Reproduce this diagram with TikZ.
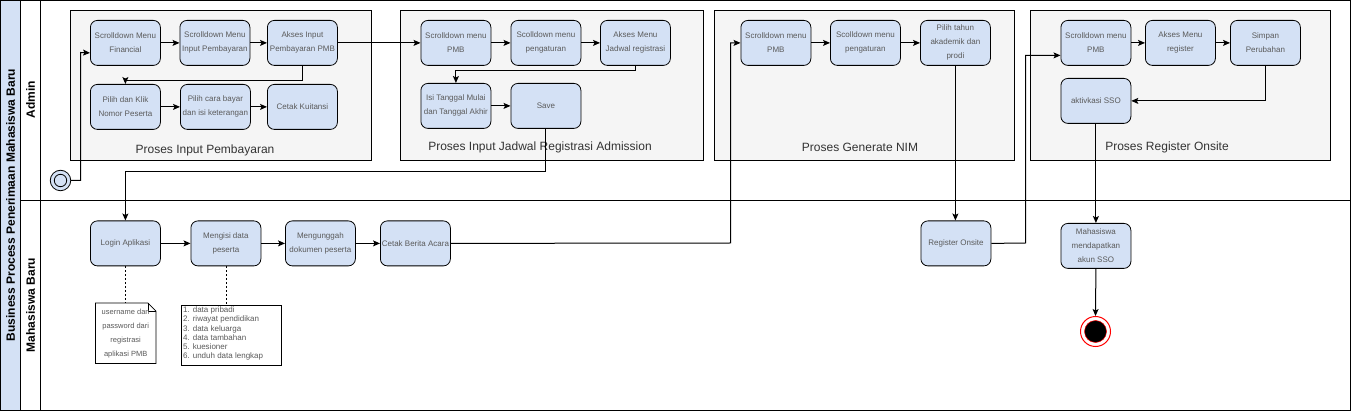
\documentclass[tikz,border=0pt]{standalone}
\usepackage{fontspec}
\setmainfont{Liberation Sans}
\usetikzlibrary{arrows.meta,calc}
\definecolor{boxblue}{HTML}{D4E1F5}
\definecolor{grpfill}{HTML}{F5F5F5}
\definecolor{txtgray}{HTML}{5A5A5A}
\definecolor{lbl}{HTML}{333333}
\begin{document}
\begin{tikzpicture}[x=1pt,y=-1pt,
  actbox/.style={draw=black, line width=0.8pt, rounded corners=7pt, fill=boxblue,
    minimum width=70pt, minimum height=45pt, inner sep=0pt, anchor=north west,
    font=\fontsize{8}{14}\selectfont, text=txtgray, align=center},
  grpbox/.style={draw=black, line width=0.8pt, fill=grpfill},
  grplabel/.style={font=\fontsize{12}{14}\selectfont, text=lbl},
  conn/.style={draw=black, line width=1pt},
  arr/.style={conn, -{Stealth[length=7pt,width=6pt,inset=1.5pt]}},
  assoc/.style={draw=black, line width=0.7pt, dashed, dash pattern=on 2pt off 2pt},
  lanelabel/.style={font=\bfseries\fontsize{12}{14}\selectfont, rotate=90},
]
\useasboundingbox (0,0) rectangle (1351,411);
% pool frame
\fill[boxblue] (0.5,0.5) rectangle (20.5,410);
\draw[line width=1pt] (0.5,0.5) rectangle (1350,410);
\draw[line width=1pt] (20.5,0.5) -- (20.5,410);
\draw[line width=1pt] (40.5,0.5) -- (40.5,410);
\draw[line width=1pt] (20.5,200.5) -- (1350,200.5);
\node[lanelabel] (title) at (10.5,205) {Business Process Penerimaan Mahasiswa Baru};
\node[lanelabel] (laneA) at (30.5,100) {Admin};
\node[lanelabel] (laneM) at (30.5,305) {Mahasiswa Baru};

% groups
\draw[grpbox] (70.5,10.5) rectangle (371,160);
\node[grplabel] (g1) at (205,150.5) {Proses Input Pembayaran};
\draw[grpbox] (400.5,10.5) rectangle (703,160);
\node[grplabel] (g2) at (540,147) {Proses Input Jadwal Registrasi Admission};
\draw[grpbox] (714,10.5) rectangle (1014.5,160);
\node[grplabel] (g3) at (860,147) {Proses Generate NIM};
\draw[grpbox] (1030.5,10.5) rectangle (1330.5,160);
\node[grplabel] (g4) at (1167,147) {Proses Register Onsite};

% group 1
\node[actbox] (b11) at (90,20) {Scrolldown Menu\\Financial};
\node[actbox] (b12) at (179.5,20) {Scrolldown Menu\\Input Pembayaran};
\node[actbox] (b13) at (267,20) {Akses Input\\Pembayaran PMB};
\node[actbox] (b14) at (90,84) {Pilih dan Klik\\Nomor Peserta};
\node[actbox] (b15) at (180,84) {Pilih cara bayar\\dan isi keterangan};
\node[actbox] (b16) at (267,84) {Cetak Kuitansi};
% group 2
\node[actbox] (b21) at (420.5,20) {Scrolldown menu\\PMB};
\node[actbox] (b22) at (510.5,20) {Scolldown menu\\pengaturan};
\node[actbox] (b23) at (600,20) {Akses Menu\\Jadwal registrasi};
\node[actbox] (b24) at (420.5,83) {Isi Tanggal Mulai\\dan Tanggal Akhir};
\node[actbox] (b25) at (510.5,83) {Save};
% group 3
\node[actbox] (b31) at (740.5,20) {Scrolldown menu\\PMB};
\node[actbox] (b32) at (830,20) {Scolldown menu\\pengaturan};
\node[actbox] (b33) at (920,20) {Pilih tahun\\akademik dan\\prodi};
% group 4
\node[actbox] (b41) at (1060.5,20) {Scrolldown menu\\PMB};
\node[actbox] (b42) at (1145,20) {Akses Menu\\register};
\node[actbox] (b43) at (1230,20) {Simpan\\Perubahan};
\node[actbox] (b44) at (1060.5,78) {aktivkasi SSO};
% lane 2
\node[actbox] (m1) at (90,220.5) {Login Aplikasi};
\node[actbox] (m2) at (190.5,220.5) {Mengisi data\\peserta};
\node[actbox] (m3) at (285,220.5) {Mengunggah\\dokumen peserta};
\node[actbox] (m4) at (380,220.5) {Cetak Berita Acara};
\node[actbox] (m5) at (920.5,220.5) {Register Onsite};
\node[actbox] (m6) at (1060.5,223) {Mahasiswa\\mendapatkan\\akun SSO};

% start and end events
\node[circle, draw=black, line width=0.8pt, fill=boxblue, minimum size=20.5pt, inner sep=0pt] (start) at (60.5,180.5) {};
\draw[line width=0.8pt] (start.center) circle (6.2pt);
\node[circle, draw=red, line width=1pt, fill=white, minimum size=30pt, inner sep=0pt] (end) at (1095.5,331.5) {};
\fill[black] (end.center) circle (11pt);
\draw[red, line width=0.5pt] (end.center) circle (11pt);

% notes
\node[draw=none, minimum width=60pt, minimum height=60pt, inner sep=0pt, anchor=north west] (n1) at (95.5,303) {};
\draw[line width=0.8pt, fill=white] (n1.north west) -- ($(n1.north east)+(-8,0)$) -- ($(n1.north east)+(0,8)$) -- (n1.south east) -- (n1.south west) -- cycle;
\draw[line width=0.8pt] ($(n1.north east)+(-8,0)$) -- ($(n1.north east)+(-8,8)$) -- ($(n1.north east)+(0,8)$);
\node[inner sep=0pt, font=\fontsize{7.5}{14}\selectfont, text=txtgray, align=center] (n1t) at (n1.center) {username dan\\password dari\\registrasi\\aplikasi PMB};
\node[draw=black, line width=0.8pt, fill=white, minimum width=100pt, minimum height=60pt, anchor=north west] (n2) at (180.5,305) {};
\node[anchor=north west, inner sep=0pt, font=\fontsize{8}{9.3}\selectfont, text=txtgray, align=left] (n2t) at (183,306.5) {1. data pribadi\\2. riwayat pendidikan\\3. data keluarga\\4. data tambahan\\5. kuesioner\\6. unduh data lengkap};
\draw[assoc] (m1.south) -- (n1.north -| m1.south);
\draw[assoc] (m2.south) -- (n2.north -| m2.south);

% connectors
\coordinate (c1) at (80.5,180.5);
\draw[arr] (start.east) -- (c1) -- (80.5,52.5) -- ($(b11.west)+(0,10)$);
\draw[arr] (b11) -- (b12);
\draw[arr] (b12) -- (b13);
\draw[arr] (b13.south) -- ++(0,15) -| (b14.north);
\draw[arr] (b14) -- (b15);
\draw[arr] (b15) -- (b16);
\draw[arr] (b13.east) -- (b21.west);
\draw[arr] (b21) -- (b22);
\draw[arr] (b22) -- (b23);
\draw[arr] (b23.south) -- ++(0,5) -| (b24.north);
\draw[arr] (b24) -- (b25);
\draw[arr] (b25.south) -- ++(0,42.5) -| (m1.north);
\draw[arr] (m1) -- (m2);
\draw[arr] (m2) -- (m3);
\draw[arr] (m3) -- (m4);
\coordinate (c2) at (730.5,243);
\draw[arr] (m4.east) -- (c2) |- (b31.west);
\draw[arr] (b31) -- (b32);
\draw[arr] (b32) -- (b33);
\draw[arr] (b33.south) -- (b33.south |- m5.north);
\coordinate (c3) at (1025.5,243);
\draw[arr] (m5.east) -- (c3) |- ($(b41.west)+(0,12.5)$);
\draw[arr] (b41) -- (b42);
\draw[arr] (b42) -- (b43);
\draw[arr] (b43.south) |- (b44.east);
\draw[arr] (b44.south) -- (m6.north);
\draw[arr] (m6.south) -- (end.north);
\end{tikzpicture}
\end{document}
